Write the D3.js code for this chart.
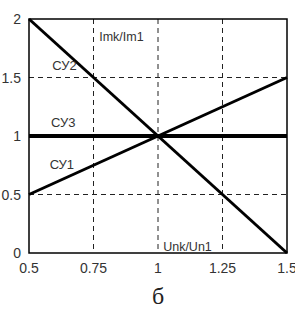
<!DOCTYPE html>
<html>
<head>
<meta charset="utf-8">
<script src="https://cdn.jsdelivr.net/npm/d3@7"></script>
<style>
body { margin: 0; background: #fff; }
text { font-family: "Liberation Sans", Arial, sans-serif; }
</style>
</head>
<body>
<div id="chart"></div>
<script>
let xTicks = [0.5, 0.75, 1, 1.25, 1.5]
let yTicks = [0, 0.5, 1, 1.5, 2]
let xGrid = [0.75, 1, 1.25]
let yGrid = [0.5, 1, 1.5]

let su1 = [[0.5, 0.5], [1.5, 1.5]]
let su2 = [[0.5, 2], [1.5, 0]]
let su3 = [[0.5, 1], [1.5, 1]]

let curveNames = ["СУ2", "СУ3", "СУ1"]
let curveLabelPos = [[0.59, 1.56], [0.585, 1.08], [0.58, 0.72]]

let width = 295
let height = 315
let margin = {top: 19, bottom: 62, left: 29, right: 8}

let svg = d3.select("#chart").append("svg")
    .attr("width", width)
    .attr("height", height)

let w = width - margin.left - margin.right
let h = height - margin.top - margin.bottom
let xScale = d3.scaleLinear().domain([0.5, 1.5]).range([0, w])
let yScale = d3.scaleLinear().domain([0, 2]).range([h, 0])

let plot = svg.append("g")
    .attr("transform", "translate(" + margin.left + "," + margin.top + ")")

// dashed grid
plot.selectAll(".vgrid").data(xGrid).enter().append("line")
    .attr("x1", d => xScale(d)).attr("x2", d => xScale(d))
    .attr("y1", 0).attr("y2", h)
    .attr("stroke", "#222").attr("stroke-width", 1)
    .attr("stroke-dasharray", "5,4")

plot.selectAll(".hgrid").data(yGrid).enter().append("line")
    .attr("x1", 0).attr("x2", w)
    .attr("y1", d => yScale(d)).attr("y2", d => yScale(d))
    .attr("stroke", "#222").attr("stroke-width", 1)
    .attr("stroke-dasharray", "5,4")

// frame
plot.append("rect")
    .attr("x", 0).attr("y", 0).attr("width", w).attr("height", h)
    .attr("fill", "none").attr("stroke", "#000").attr("stroke-width", 1.5)

// tick labels
plot.selectAll(".xt").data(xTicks).enter().append("text")
    .attr("x", d => xScale(d))
    .attr("y", h + 20)
    .attr("text-anchor", "middle")
    .attr("font-size", 14)
    .attr("fill", "#333")
    .text(d => d)

plot.selectAll(".yt").data(yTicks).enter().append("text")
    .attr("x", -8)
    .attr("y", d => yScale(d) + 5)
    .attr("text-anchor", "end")
    .attr("font-size", 14)
    .attr("fill", "#333")
    .text(d => d)

// curves
let line = d3.line().x(d => xScale(d[0])).y(d => yScale(d[1]))

plot.append("path").datum(su3).attr("d", line)
    .attr("fill", "none").attr("stroke", "#000").attr("stroke-width", 4)
plot.append("path").datum(su1).attr("d", line)
    .attr("fill", "none").attr("stroke", "#000").attr("stroke-width", 3)
plot.append("path").datum(su2).attr("d", line)
    .attr("fill", "none").attr("stroke", "#000").attr("stroke-width", 3)

plot.selectAll(".cl").data(curveNames).enter().append("text")
    .attr("x", (d, i) => xScale(curveLabelPos[i][0]))
    .attr("y", (d, i) => yScale(curveLabelPos[i][1]))
    .attr("font-size", 13)
    .attr("fill", "#333")
    .text(d => d)

// axis names
plot.append("text")
    .attr("x", xScale(0.772))
    .attr("y", yScale(1.81))
    .attr("font-size", 12.5)
    .attr("fill", "#333")
    .text("Imk/Im1")

plot.append("text")
    .attr("x", xScale(1.02))
    .attr("y", yScale(0.02))
    .attr("font-size", 12.5)
    .attr("fill", "#333")
    .text("Unk/Un1")

svg.append("text")
    .attr("x", margin.left + xScale(1))
    .attr("y", 304)
    .attr("text-anchor", "middle")
    .attr("font-size", 24)
    .style("font-family", "'Liberation Serif', 'Times New Roman', serif")
    .attr("fill", "#222")
    .text("б")
</script>
</body>
</html>
